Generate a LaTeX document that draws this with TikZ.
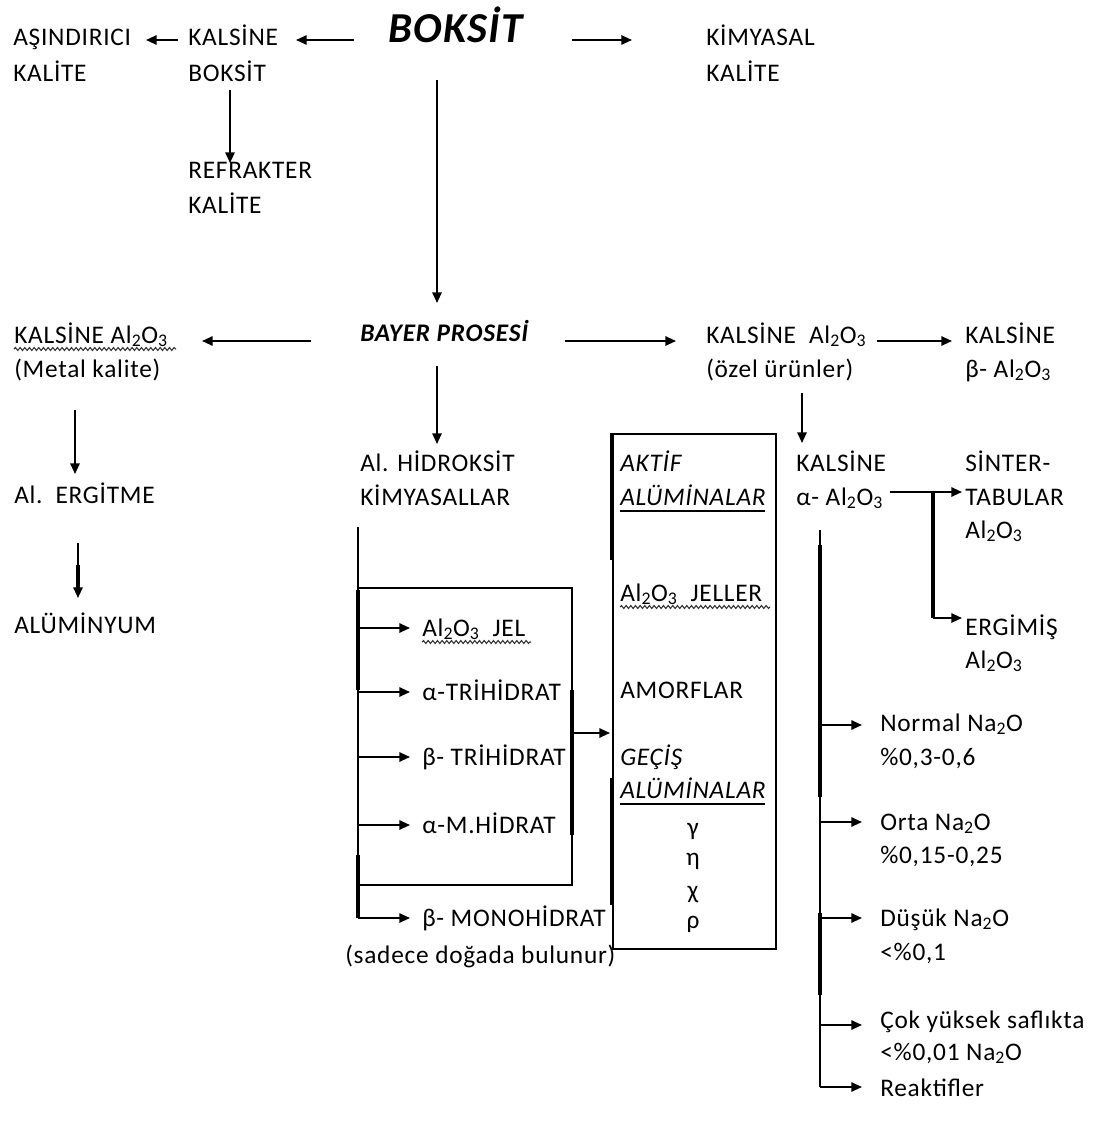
\documentclass[tikz,border=0pt]{standalone}
\usepackage{fontspec}
\setmainfont{Carlito}[LetterSpace=3]
\usetikzlibrary{arrows.meta,decorations.pathmorphing}
\newcommand{\alox}{Al\textsubscript{2}O\textsubscript{3}}
\newcommand{\naox}{Na\textsubscript{2}O}
\begin{document}
\begin{tikzpicture}[x=0.75pt,y=-0.75pt,
  lbl/.style={anchor=base west,inner sep=0pt,font=\fontsize{19}{22}\selectfont},
  ilbl/.style={lbl,font=\fontsize{19}{22}\selectfont\itshape},
  glbl/.style={anchor=base,inner sep=0pt,font=\fontsize{19}{22}\selectfont},
  ttl/.style={anchor=base west,inner sep=0pt,font=\fontsize{32}{36}\selectfont\bfseries\itshape},
  sttl/.style={anchor=base west,inner sep=0pt,font=\fontsize{19}{22}\selectfont\bfseries\itshape},
  ln/.style={line width=1.4pt},
  thk/.style={line width=3pt},
  arr/.style={line width=1.4pt,-{Triangle[length=8pt,width=7pt]}},
  uline/.style={line width=1.1pt},
  wavy/.style={decorate,decoration={snake,amplitude=1.1pt,segment length=3.5pt},line width=0.8pt,black!80}
]
\useasboundingbox (0,0) rectangle (1099,1131);

% ---- top row ----
\node[ttl] (boksit) at (388,43) {BOKSİT};
\node[lbl] (asi1) at (13,46) {AŞINDIRICI};
\node[lbl] (asi2) at (13,82) {KALİTE};
\node[lbl] (kb1) at (188,46) {KALSİNE};
\node[lbl] (kb2) at (188,82) {BOKSİT};
\node[lbl] (kim1) at (706,46) {KİMYASAL};
\node[lbl] (kim2) at (706,82) {KALİTE};
\node[lbl] (ref1) at (188,178) {REFRAKTER};
\node[lbl] (ref2) at (188,213) {KALİTE};

\coordinate (c1a) at (354,40); \coordinate (c1b) at (296,40);
\coordinate (c2a) at (178,40); \coordinate (c2b) at (146,40);
\coordinate (c3a) at (572,40); \coordinate (c3b) at (632,40);
\coordinate (c4a) at (230,90); \coordinate (c4b) at (230,163);
\coordinate (c5a) at (437,80); \coordinate (c5b) at (437,303);
\draw[arr] (c1a) -- (c1b);
\draw[arr] (c2a) -- (c2b);
\draw[arr] (c3a) -- (c3b);
\draw[arr] (c4a) -- (c4b);
\draw[arr] (c5a) -- (c5b);

% ---- Bayer row ----
\node[sttl] (bayer) at (360,341) {BAYER PROSESİ};
\node[lbl] (met1) at (14,343) {KALSİNE \alox};
\node[lbl] (met2) at (14,377) {(Metal kalite)};
\node[lbl] (oz1) at (706,343) {KALSİNE\ \ \alox};
\node[lbl] (oz2) at (706,377) {(özel ürünler)};
\node[lbl] (bt1) at (965,343) {KALSİNE};
\node[lbl] (bt2) at (965,377) {β- \alox};
\draw[wavy] (14,349) -- (176,349);

\coordinate (c6a) at (311,341); \coordinate (c6b) at (202,341);
\coordinate (c7a) at (565,341); \coordinate (c7b) at (676,341);
\coordinate (c8a) at (877,341); \coordinate (c8b) at (952,341);
\coordinate (c9a) at (437,366); \coordinate (c9b) at (437,444);
\draw[arr] (c6a) -- (c6b);
\draw[arr] (c7a) -- (c7b);
\draw[arr] (c8a) -- (c8b);
\draw[arr] (c9a) -- (c9b);

% ---- metal branch ----
\node[lbl] (erg) at (14,503) {Al.\ \ ERGİTME};
\node[lbl] (alu) at (14,633) {ALÜMİNYUM};
\coordinate (c10a) at (75,410); \coordinate (c10b) at (75,474);
\coordinate (c11a) at (78,543); \coordinate (c11b) at (78,598);
\draw[arr] (c10a) -- (c10b);
\draw[arr] (c11a) -- (c11b);
\draw[thk] (78,565) -- (78,588);

% ---- hydroxide chemicals ----
\node[lbl] (hid1) at (360,471) {Al. HİDROKSİT};
\node[lbl] (hid2) at (360,505) {KİMYASALLAR};
\node[lbl] (jel) at (422,636) {\alox\ \ JEL};
\node[lbl] (atri) at (422,700) {α-TRİHİDRAT};
\node[lbl] (btri) at (422,765) {β- TRİHİDRAT};
\node[lbl] (amh) at (422,833) {α-M.HİDRAT};
\node[lbl] (bmono) at (422,926) {β- MONOHİDRAT};
\node[lbl] (sad) at (345,963) {(sadece doğada bulunur)};
\draw[wavy] (422,642) -- (531,642);

\coordinate (t0) at (358,527);
\coordinate (t1) at (358,628); \coordinate (t1b) at (410,628);
\coordinate (t2) at (358,692); \coordinate (t2b) at (410,692);
\coordinate (t3) at (358,757); \coordinate (t3b) at (410,757);
\coordinate (t4) at (358,825); \coordinate (t4b) at (410,825);
\coordinate (t5) at (358,918); \coordinate (t5b) at (410,918);
\draw[ln] (t0) -- (t5);
\draw[thk] (358,590) -- (358,690);
\draw[thk] (358,855) -- (358,918);
\draw[arr] (t1) -- (t1b);
\draw[arr] (t2) -- (t2b);
\draw[arr] (t3) -- (t3b);
\draw[arr] (t4) -- (t4b);
\draw[arr] (t5) -- (t5b);
% bracket collecting the hydrates
\coordinate (g1) at (358,588); \coordinate (g2) at (572,588);
\coordinate (g3) at (572,885); \coordinate (g4) at (358,885);
\draw[ln] (g1) -- (g2) -- (g3) -- (g4);
\draw[thk] (572,690) -- (572,835);
\coordinate (g5) at (572,733); \coordinate (g6) at (610,733);
\draw[arr] (g5) -- (g6);

% ---- alumina box ----
\node[draw,line width=1.4pt,minimum width=163*0.75pt,minimum height=515*0.75pt,anchor=north west,inner sep=0pt] (box) at (612,433) {};
\draw[thk] (612,433) -- (612,560);
\draw[thk] (612,778) -- (612,905);
\node[ilbl] (akt1) at (620,471) {AKTİF};
\node[ilbl] (akt2) at (620,505) {ALÜMİNALAR};
\draw[uline] (620,511) -- (765,511);
\node[lbl] (jeller) at (620,601) {\alox\ \ JELLER};
\draw[wavy] (620,607) -- (770,607);
\node[lbl] (amor) at (620,698) {AMORFLAR};
\node[ilbl] (gec1) at (620,765) {GEÇİŞ};
\node[ilbl] (gec2) at (620,798) {ALÜMİNALAR};
\draw[uline] (620,804) -- (765,804);
\node[glbl] (gam) at (693,835) {γ};
\node[glbl] (eta) at (693,865) {η};
\node[glbl] (chi) at (693,898) {χ};
\node[glbl] (rho) at (693,928) {ρ};

% ---- special calcined products ----
\node[lbl] (ka1) at (796,471) {KALSİNE};
\node[lbl] (ka2) at (796,505) {α- \alox};
\node[lbl] (sin1) at (965,471) {SİNTER-};
\node[lbl] (sin2) at (965,505) {TABULAR};
\node[lbl] (sin3) at (965,538) {\alox};
\node[lbl] (erm1) at (965,635) {ERGİMİŞ};
\node[lbl] (erm2) at (965,668) {\alox};
\coordinate (c12a) at (802,393); \coordinate (c12b) at (802,443);
\draw[arr] (c12a) -- (c12b);
\coordinate (s0) at (890,492); \coordinate (s1) at (933,492);
\coordinate (s2) at (933,618);
\coordinate (s1b) at (962,492); \coordinate (s2b) at (962,618);
\draw[ln] (s0) -- (s1);
\draw[thk] (s1) -- (s2);
\draw[arr] (s1) -- (s1b);
\draw[arr] (s2) -- (s2b);

% ---- soda grades ----
\node[lbl] (nor1) at (880,731) {Normal \naox};
\node[lbl] (nor2) at (880,765) {\%0,3-0,6};
\node[lbl] (ort1) at (880,830) {Orta \naox};
\node[lbl] (ort2) at (880,863) {\%0,15-0,25};
\node[lbl] (dus1) at (880,926) {Düşük \naox};
\node[lbl] (dus2) at (880,960) {<\%0,1};
\node[lbl] (cok1) at (880,1028) {Çok yüksek saflıkta};
\node[lbl] (cok2) at (880,1060) {<\%0,01 \naox};
\node[lbl] (rea) at (880,1096) {Reaktifler};
\coordinate (r0) at (820,530);
\coordinate (r1) at (820,725); \coordinate (r1b) at (862,725);
\coordinate (r2) at (820,822); \coordinate (r2b) at (862,822);
\coordinate (r3) at (820,918); \coordinate (r3b) at (862,918);
\coordinate (r4) at (820,1025); \coordinate (r4b) at (862,1025);
\coordinate (r5) at (820,1087); \coordinate (r5b) at (862,1087);
\draw[ln] (r0) -- (r5);
\draw[thk] (820,545) -- (820,797);
\draw[thk] (820,913) -- (820,995);
\draw[arr] (r1) -- (r1b);
\draw[arr] (r2) -- (r2b);
\draw[arr] (r3) -- (r3b);
\draw[arr] (r4) -- (r4b);
\draw[arr] (r5) -- (r5b);
\end{tikzpicture}
\end{document}
